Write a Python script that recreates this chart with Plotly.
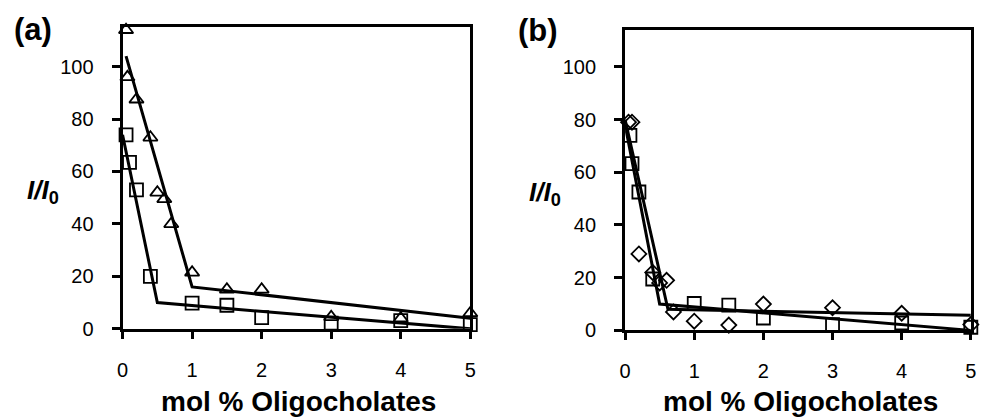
import plotly.graph_objects as go

# ---- Panel (a) data ----
a_tri_x = [0.05, 0.07, 0.2, 0.4, 0.5, 0.6, 0.7, 1.0, 1.5, 2.0, 3.0, 4.0, 5.0]
a_tri_y = [114, 96, 87.5, 73, 52, 49.5, 40, 21.5, 15, 15, 4.5, 4, 6]
a_sq_x = [0.05, 0.1, 0.2, 0.4, 1.0, 1.5, 2.0, 3.0, 4.0, 5.0]
a_sq_y = [74, 63.5, 53, 20, 9.8, 9, 4.3, 2.2, 3.1, 1.6]
a_tri_fit_x = [0.05, 1.0, 5.0]
a_tri_fit_y = [104, 16, 4]
a_sq_fit_x = [0, 0.5, 5]
a_sq_fit_y = [74, 10, 0]

# ---- Panel (b) data ----
b_dia_x = [0.05, 0.1, 0.2, 0.4, 0.5, 0.6, 0.7, 1.0, 1.5, 2.0, 3.0, 4.0, 5.0]
b_dia_y = [79, 79, 29, 22, 18, 19, 7, 3.5, 2, 10, 8.6, 6.5, 2.2]
b_sq_x = [0.07, 0.1, 0.2, 0.4, 1.0, 1.5, 2.0, 3.0, 4.0, 5.0]
b_sq_y = [74, 63.3, 52.5, 19.5, 10.2, 9.6, 4.7, 2.2, 2.8, 1.2]
b_fit1_x = [0, 0.5, 5]
b_fit1_y = [78, 10, 0]
b_fit2_x = [0, 0.62, 5]
b_fit2_y = [80, 8, 5.7]

x_ticks = [0, 1, 2, 3, 4, 5]
y_ticks = [0, 20, 40, 60, 80, 100]

FONT = "Liberation Sans, Arial, sans-serif"
W, H = 987, 419

def px_x(p):
    return p / W

def px_y(p):
    return 1 - p / H

fig = go.Figure()

def marker_trace(x, y, symbol, size, xa, ya):
    return go.Scatter(x=x, y=y, mode="markers", xaxis=xa, yaxis=ya,
                      cliponaxis=False, showlegend=False,
                      marker=dict(symbol=symbol, size=size, color="black",
                                  line=dict(color="black", width=1.8)))

def line_trace(x, y, xa, ya):
    return go.Scatter(x=x, y=y, mode="lines", xaxis=xa, yaxis=ya,
                      cliponaxis=False, showlegend=False,
                      line=dict(color="black", width=3))

# panel a
fig.add_trace(line_trace(a_tri_fit_x, a_tri_fit_y, "x", "y"))
fig.add_trace(line_trace(a_sq_fit_x, a_sq_fit_y, "x", "y"))
fig.add_trace(marker_trace(a_tri_x, a_tri_y, "triangle-up-open", 12.5, "x", "y"))
fig.add_trace(marker_trace(a_sq_x, a_sq_y, "square-open", 13, "x", "y"))
# panel b
fig.add_trace(line_trace(b_fit1_x, b_fit1_y, "x2", "y2"))
fig.add_trace(line_trace(b_fit2_x, b_fit2_y, "x2", "y2"))
fig.add_trace(marker_trace(b_sq_x, b_sq_y, "square-open", 13, "x2", "y2"))
fig.add_trace(marker_trace(b_dia_x, b_dia_y, "diamond-open", 11.5, "x2", "y2"))

axis_common = dict(showline=True, linecolor="black", linewidth=3, mirror=True,
                   ticks="outside", tickcolor="black", tickwidth=3,
                   showgrid=False, zeroline=False,
                   tickfont=dict(family=FONT, size=20, color="black"))

fig.update_layout(
    width=W, height=H, margin=dict(l=0, r=0, t=0, b=0),
    paper_bgcolor="white", plot_bgcolor="white",
    xaxis=dict(domain=[px_x(118), px_x(470)], range=[0, 5], tickvals=x_ticks,
               ticklen=7, anchor="y", ticklabelstandoff=14, **axis_common),
    yaxis=dict(domain=[px_y(337.7), px_y(28)], range=[0, 115], tickvals=y_ticks,
               ticklen=8, anchor="x", ticklabelstandoff=14, **axis_common),
    xaxis2=dict(domain=[px_x(626.7), px_x(976.7)], range=[0, 5], tickvals=x_ticks,
                ticklen=7, anchor="y2", ticklabelstandoff=14, **axis_common),
    yaxis2=dict(domain=[px_y(339.3), px_y(30.7)], range=[0, 114], tickvals=y_ticks,
                ticklen=8, anchor="x2", ticklabelstandoff=14, **axis_common),
)

ann = []
def add_text(text, x, y, size, xanchor="center", yanchor="middle"):
    ann.append(dict(text=text, x=px_x(x), y=px_y(y), xref="paper", yref="paper",
                    showarrow=False, xanchor=xanchor, yanchor=yanchor,
                    font=dict(family=FONT, size=size, color="black")))

add_text("<b>(a)</b>", 6, 30, 31, xanchor="left")
add_text("<b>(b)</b>", 516, 31, 31, xanchor="left")
add_text("<b><i>I/I</i><sub>0</sub></b>", 37, 197, 26)
add_text("<b><i>I/I</i><sub>0</sub></b>", 546, 199, 26)
add_text("<b>mol % Oligocholates</b>", 296, 412, 28)
add_text("<b>mol % Oligocholates</b>", 804, 412, 28)
fig.update_layout(annotations=ann)

fig.write_html("out.html")
